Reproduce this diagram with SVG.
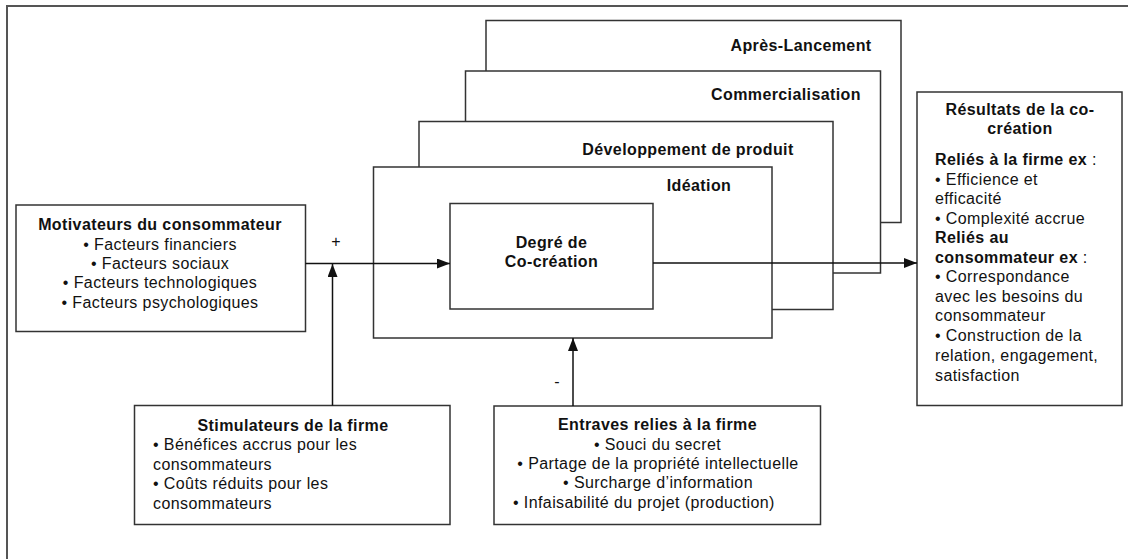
<svg xmlns="http://www.w3.org/2000/svg" width="1128" height="559" viewBox="0 0 1128 559">
<style>
.box{fill:#fff;stroke:#333;stroke-width:1.5}
.t{font-family:"Liberation Sans",Arial,sans-serif;font-size:16px;fill:#111;letter-spacing:0.4px}
.b{font-weight:bold}
.c{text-anchor:middle}
.con{stroke:#111;stroke-width:1.5;fill:none}
</style>
<defs>
<marker id="arr" viewBox="0 0 13 10" refX="13" refY="5" markerWidth="13" markerHeight="10" markerUnits="userSpaceOnUse" orient="auto">
<path d="M0,0 L13,5 L0,10 Z" fill="#111"/>
</marker>
</defs>
<rect width="1128" height="559" fill="#fff"/>
<g id="frame"><path d="M7,559 V6 H1128" fill="none" stroke="#555" stroke-width="2"/></g>

<g id="apres-lancement">
<rect class="box" x="486" y="20.5" width="415" height="202"/>
<text class="t b c" x="801" y="51">Après-Lancement</text>
</g>
<g id="commercialisation">
<rect class="box" x="465.5" y="71" width="415" height="202"/>
<text class="t b c" x="786" y="100">Commercialisation</text>
</g>
<g id="developpement">
<rect class="box" x="419" y="121.5" width="414" height="188"/>
<text class="t b c" x="688" y="155">Développement de produit</text>
</g>
<g id="ideation">
<rect class="box" x="373.5" y="167" width="398.5" height="171"/>
<text class="t b c" x="699" y="191">Idéation</text>
</g>
<g id="degre">
<rect class="box" x="450" y="203.5" width="203" height="105.5"/>
<text class="t b c" x="551.5" y="248">Degré de</text>
<text class="t b c" x="551.5" y="267">Co-création</text>
</g>

<g id="motivateurs">
<rect class="box" x="16" y="205" width="289.5" height="126.5"/>
<text class="t b c" x="160" y="230">Motivateurs du consommateur</text>
<text class="t c" x="160" y="249.5">• Facteurs financiers</text>
<text class="t c" x="160" y="269">• Facteurs sociaux</text>
<text class="t c" x="160" y="288">• Facteurs technologiques</text>
<text class="t c" x="160" y="307.5">• Facteurs psychologiques</text>
</g>

<g id="stimulateurs">
<rect class="box" x="134.5" y="405.5" width="315.5" height="119"/>
<text class="t b c" x="293" y="431">Stimulateurs de la firme</text>
<text class="t" x="153" y="450">• Bénéfices accrus pour les</text>
<text class="t" x="153" y="469.5">consommateurs</text>
<text class="t" x="153" y="489">• Coûts réduits pour les</text>
<text class="t" x="153" y="509">consommateurs</text>
</g>

<g id="entraves">
<rect class="box" x="494" y="406" width="326.5" height="118.5"/>
<text class="t b c" x="657.5" y="430">Entraves relies à la firme</text>
<text class="t c" x="657.5" y="449.5">• Souci du secret</text>
<text class="t c" x="658" y="469">• Partage de la propriété intellectuelle</text>
<text class="t c" x="658" y="488">• Surcharge d’information</text>
<text class="t" x="513" y="507.5">• Infaisabilité du projet (production)</text>
</g>

<g id="resultats">
<rect class="box" x="917" y="92" width="205" height="313.5" stroke-width="2"/>
<text class="t b c" x="1020" y="115">Résultats de la co-</text>
<text class="t b c" x="1020" y="133.5">création</text>
<text class="t" x="935" y="165"><tspan class="b">Reliés à la firme ex</tspan> :</text>
<text class="t" x="935" y="185">• Efficience et</text>
<text class="t" x="935" y="204">efficacité</text>
<text class="t" x="935" y="223.5">• Complexité accrue</text>
<text class="t b" x="935" y="243">Reliés au</text>
<text class="t" x="935" y="262.5"><tspan class="b">consommateur ex</tspan> :</text>
<text class="t" x="935" y="282">• Correspondance</text>
<text class="t" x="935" y="301.5">avec les besoins du</text>
<text class="t" x="935" y="321">consommateur</text>
<text class="t" x="935" y="340.5">• Construction de la</text>
<text class="t" x="935" y="361">relation, engagement,</text>
<text class="t" x="935" y="381">satisfaction</text>
</g>

<g id="connectors">
<line class="con" x1="305.5" y1="263.5" x2="450" y2="263.5" marker-end="url(#arr)"/>
<line class="con" x1="332.5" y1="405.5" x2="332.5" y2="264" marker-end="url(#arr)"/>
<line class="con" x1="573" y1="406" x2="573" y2="338" marker-end="url(#arr)"/>
<line class="con" x1="653" y1="263" x2="917" y2="263" marker-end="url(#arr)"/>
</g>

<g id="labels">
<text class="t c" x="336" y="247">+</text>
<text class="t c" x="557" y="387">-</text>
</g>
</svg>
